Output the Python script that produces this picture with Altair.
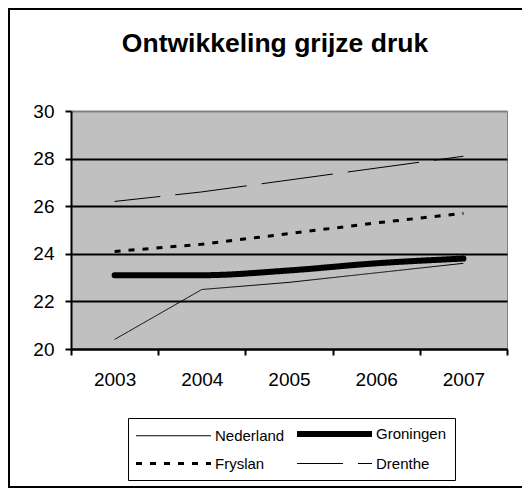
import altair as alt
import pandas as pd

years = ["2003", "2004", "2005", "2006", "2007"]
series_names = ["Nederland", "Fryslan", "Groningen", "Drenthe"]
nederland = [20.4, 22.5, 22.8, 23.2, 23.6]
groningen = [23.1, 23.1, 23.3, 23.6, 23.8]
fryslan = [24.1, 24.4, 24.85, 25.3, 25.7]
drenthe = [26.2, 26.6, 27.1, 27.6, 28.1]
y_ticks = [20, 22, 24, 26, 28, 30]

values = {"Nederland": nederland, "Groningen": groningen, "Fryslan": fryslan, "Drenthe": drenthe}
rows = []
for s in series_names:
    for yr, v in zip(years, values[s]):
        rows.append({"jaar": yr, "waarde": v, "reeks": s})
df = pd.DataFrame(rows)

FONT = "Liberation Sans"

legend = alt.Legend(
    title=None, orient="none", legendX=57, legendY=307, columns=2,
    symbolType="M-1.6,0H13.4", symbolSize=100, symbolStrokeColor="black",
    labelFont=FONT, labelFontSize=15, labelColor="black", labelOffset=63,
    columnPadding=0, rowPadding=10, padding=8,
    strokeColor="black", fillColor="white",
)

dash_scale = alt.Scale(domain=series_names,
                       range=[[1, 0], [6, 8], [1, 0],
                              [46, 15, 72, 15, 72, 15, 72, 15, 72, 15]])
width_scale = alt.Scale(type="ordinal", domain=series_names, range=[1, 3, 6, 1])

x_enc = alt.X("jaar:O", sort=years, bandPosition=0.5,
              scale=alt.Scale(type="band", paddingInner=0, paddingOuter=0),
              axis=alt.Axis(title=None, labelAngle=0, tickBand="extent", tickSize=6,
                            tickWidth=2, tickColor="black", domainColor="black",
                            domainWidth=2, labelFont=FONT, labelFontSize=19,
                            labelColor="black", labelPadding=15, grid=False))
y_enc = alt.Y("waarde:Q",
              scale=alt.Scale(domain=[20, 30], nice=False, zero=False),
              axis=alt.Axis(title=None, values=y_ticks, tickSize=6, tickWidth=2,
                            tickColor="black", domainColor="black", domainWidth=2,
                            labelFont=FONT, labelFontSize=19, labelColor="black",
                            labelPadding=11, grid=True, gridWidth=2,
                            gridColor={"condition": {"test": "datum.value === 30", "value": "#808080"}, "value": "black"}))

base = alt.Chart(df).encode(
    x=x_enc, y=y_enc,
    strokeDash=alt.StrokeDash("reeks:N", scale=dash_scale, legend=legend),
    strokeWidth=alt.StrokeWidth("reeks:N", scale=width_scale, legend=legend),
)

straight = base.transform_filter(alt.datum.reeks != "Groningen").mark_line(color="black")
smooth = base.transform_filter(alt.datum.reeks == "Groningen").mark_line(
    color="black", interpolate="monotone", strokeCap="round")

frame = alt.Chart(pd.DataFrame({"a": [0]})).mark_rect(
    fillOpacity=0, stroke="black", strokeWidth=2
).encode(x=alt.value(-62), x2=alt.value(700), y=alt.value(-102), y2=alt.value(376))

chart = alt.layer(frame, straight, smooth).properties(
    width=436, height=238,
    title=alt.TitleParams("Ontwikkeling grijze druk", font=FONT, fontSize=26.5,
                          fontWeight="bold", color="black", anchor="middle",
                          dx=-14, dy=53),
    autosize=alt.AutoSizeParams(type="none"),
    padding={"left": 63, "top": 103, "right": 15, "bottom": 140},
).configure_view(fill="#C0C0C0", stroke="#808080", strokeWidth=1)

chart.save("out.html", embed_options={"renderer": "svg", "actions": False})
